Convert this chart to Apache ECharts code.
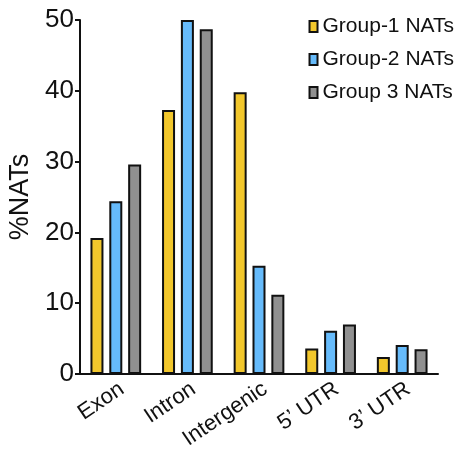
<!DOCTYPE html>
<html><head><meta charset="utf-8">
<script src="https://cdn.jsdelivr.net/npm/echarts@6/dist/echarts.min.js"></script>
<style>html,body{margin:0;padding:0;background:#fff}#c{width:455px;height:450px}</style>
</head><body><div id="c"></div>
<script>
const categories = ["Exon", "Intron", "Intergenic", "5\u2019 UTR", "3\u2019 UTR"];
const group1 = [19.2, 37.3, 39.8, 3.6, 2.4];
const group2 = [24.4, 50.0, 15.3, 6.1, 4.1];
const group3 = [29.6, 48.7, 11.2, 7.0, 3.5];
const seriesNames = ["Group-1 NATs", "Group-2 NATs", "Group 3 NATs"];
const colors = ["#f2c72c", "#66bbfb", "#909090"];
const yTicks = [0, 10, 20, 30, 40, 50];

const chart = echarts.init(document.getElementById('c'));
const font = 'Liberation Sans, Arial, sans-serif';
const mk = (name, data, color) => ({
  name, type: 'bar', data, barWidth: 13, barGap: '45%',
  itemStyle: { color, borderColor: '#111', borderWidth: 2 }
});
chart.setOption({
  animation: false,
  grid: { left: 80, right: 17, top: 20, bottom: 76, outerBoundsMode: 'none', containLabel: false },
  legend: {
    orient: 'vertical', right: 1, top: 16, itemGap: 12, padding: 0,
    itemWidth: 8, itemHeight: 11, icon: 'rect',
    textStyle: { fontFamily: font, fontSize: 21, color: '#111' },
    data: seriesNames
  },
  xAxis: {
    type: 'category', data: categories,
    axisLine: { lineStyle: { color: '#111', width: 2 } },
    axisTick: { alignWithLabel: true, length: 5, lineStyle: { color: '#111', width: 2 } },
    axisLabel: { rotate: 34, fontFamily: font, fontSize: 22, color: '#111', margin: 4, interval: 0, verticalAlign: 'top' }
  },
  yAxis: {
    type: 'value', min: 0, max: 50, interval: 10,
    name: '%NATs', nameLocation: 'middle', nameGap: 46, nameRotate: 90,
    nameTextStyle: { fontFamily: font, fontSize: 27, color: '#111' },
    axisLine: { show: true, lineStyle: { color: '#111', width: 2 } },
    axisTick: { show: true, length: 5, lineStyle: { color: '#111', width: 2 } },
    splitLine: { show: false },
    axisLabel: { fontFamily: font, fontSize: 26, color: '#111', margin: 6,
      formatter: v => yTicks.includes(v) ? String(v) : '' }
  },
  series: [mk(seriesNames[0], group1, colors[0]), mk(seriesNames[1], group2, colors[1]), mk(seriesNames[2], group3, colors[2])]
});
</script></body></html>
